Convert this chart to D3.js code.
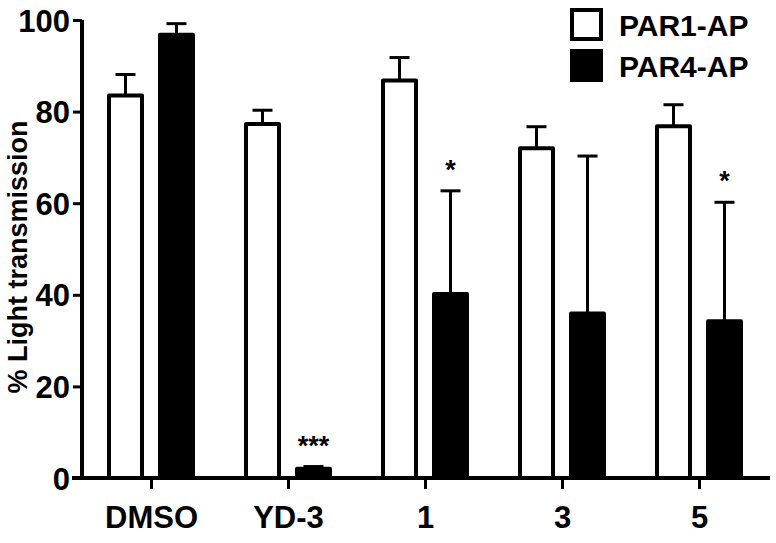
<!DOCTYPE html>
<html>
<head>
<meta charset="utf-8">
<script src="https://cdn.jsdelivr.net/npm/d3@7"></script>
<style>
  body { margin: 0; background: #fff; }
  text { font-family: "Liberation Sans", Arial, sans-serif; font-weight: bold; }
</style>
</head>
<body>
<svg id="chart" width="776" height="543"></svg>
<script>
const categories = ["DMSO", "YD-3", "1", "3", "5"];
const par1 = [83.5, 77.3, 86.8, 72.0, 76.8];
const par1Err = [4.6, 3.0, 5.0, 4.7, 4.7];
const par4 = [96.8, 2.0, 40.2, 35.9, 34.2];
const par4Err = [2.4, 0.5, 22.5, 34.4, 26.0];
const stars = ["", "***", "*", "", "*"];
const yTicks = [0, 20, 40, 60, 80, 100];
const seriesNames = ["PAR1-AP", "PAR4-AP"];

const svg = d3.select("#chart");

const x = d3.scalePoint()
    .domain(categories)
    .range([151, 699]);
const y = d3.scaleLinear()
    .domain([0, 100])
    .range([478, 20]);

const barW = 33;   // inner width, stroke adds 2px each side
const offset = 25.5;

// y axis
const yAxis = svg.append("g")
    .attr("transform", "translate(82,0)")
    .call(d3.axisLeft(y).tickValues(yTicks).tickSize(9).tickPadding(3));
yAxis.select(".domain").attr("stroke-width", 4).attr("d", `M0,${y(100)}V${y(0) + 2}`);
yAxis.selectAll(".tick line").attr("stroke-width", 3);
yAxis.selectAll(".tick text")
    .attr("font-size", 31)
    .attr("dy", "0.36em")
    .attr("fill", "#000");

// x axis
const xAxis = svg.append("g")
    .attr("transform", `translate(0,${y(0)})`)
    .call(d3.axisBottom(x).tickSize(11).tickPadding(17));
xAxis.select(".domain").attr("stroke-width", 4).attr("d", "M72,0H770");
xAxis.selectAll(".tick line").attr("stroke-width", 3);
xAxis.selectAll(".tick text")
    .attr("font-size", 31)
    .attr("fill", "#000");

// axis title
svg.append("text")
    .attr("transform", `translate(27,${(y(0) + y(100)) / 2 + 8}) rotate(-90)`)
    .attr("text-anchor", "middle")
    .attr("font-size", 27)
    .text("% Light transmission");

const groups = [
    { vals: par1, errs: par1Err, fill: "#fff", dx: -offset },
    { vals: par4, errs: par4Err, fill: "#000", dx: offset }
];

groups.forEach(g => {
    // error bars first so the bar outline covers the stem base
    const eb = svg.append("g").attr("stroke", "#000").attr("stroke-width", 3);
    eb.selectAll("line.stem")
        .data(categories)
        .join("line")
        .attr("x1", d => x(d) + g.dx)
        .attr("x2", d => x(d) + g.dx)
        .attr("y1", (d, i) => y(g.vals[i]))
        .attr("y2", (d, i) => y(g.vals[i] + g.errs[i]));
    eb.selectAll("line.cap")
        .data(categories)
        .join("line")
        .attr("x1", d => x(d) + g.dx - 10)
        .attr("x2", d => x(d) + g.dx + 10)
        .attr("y1", (d, i) => y(g.vals[i] + g.errs[i]))
        .attr("y2", (d, i) => y(g.vals[i] + g.errs[i]));

    svg.append("g").selectAll("rect")
        .data(categories)
        .join("rect")
        .attr("x", d => x(d) + g.dx - barW / 2)
        .attr("width", barW)
        .attr("y", (d, i) => y(g.vals[i]))
        .attr("height", (d, i) => y(0) - y(g.vals[i]))
        .attr("fill", g.fill)
        .attr("stroke", "#000")
        .attr("stroke-width", 4)
        .attr("stroke-linejoin", "round");
});

// significance marks
svg.append("g").selectAll("text")
    .data(categories)
    .join("text")
    .attr("x", d => x(d) + offset)
    .attr("y", (d, i) => y(par4[i] + par4Err[i]) - 12)
    .attr("text-anchor", "middle")
    .attr("font-size", 27)
    .text((d, i) => stars[i]);

// legend
const legend = svg.append("g").attr("transform", "translate(572,10)");
legend.selectAll("rect")
    .data(seriesNames)
    .join("rect")
    .attr("x", 0)
    .attr("y", (d, i) => i * 41)
    .attr("width", 29)
    .attr("height", 29)
    .attr("fill", (d, i) => i === 0 ? "#fff" : "#000")
    .attr("stroke", "#000")
    .attr("stroke-width", 4);
legend.selectAll("text")
    .data(seriesNames)
    .join("text")
    .attr("x", 47)
    .attr("y", (d, i) => 26 + i * 41)
    .attr("font-size", 30)
    .text(d => d);
</script>
</body>
</html>
